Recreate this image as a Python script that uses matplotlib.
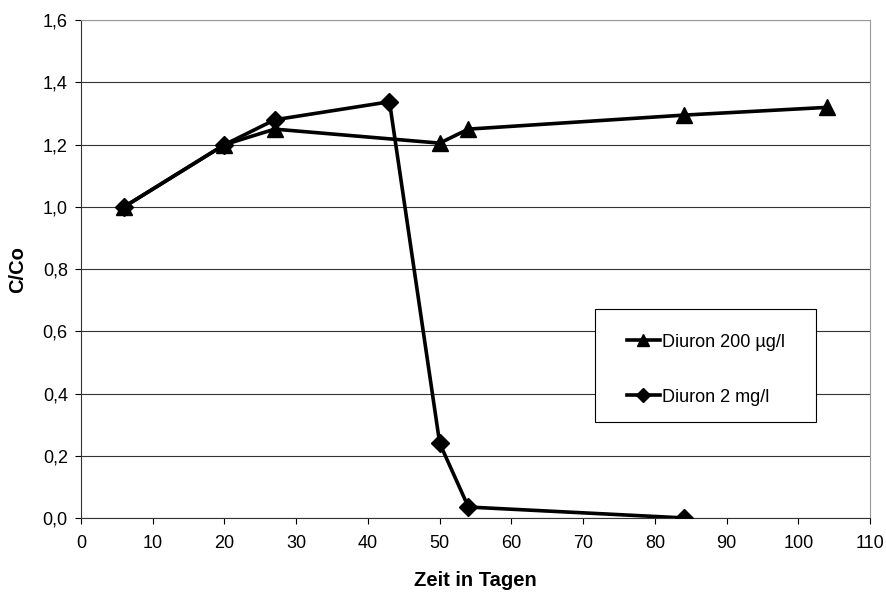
"""Diuron C/Co over time"""
import matplotlib.pyplot as plt
from matplotlib.patches import Rectangle
import numpy as np

plt.rcParams['font.family'] = ['Liberation Sans', 'DejaVu Sans']

days_200ug = [6, 20, 27, 50, 54, 84, 104]
ratio_200ug = [1.0, 1.2, 1.25, 1.205, 1.25, 1.295, 1.32]

days_2mg = [6, 20, 27, 43, 50, 54, 84]
ratio_2mg = [1.0, 1.2, 1.28, 1.338, 0.24, 0.035, 0.0]

x_ticks = np.arange(0, 111, 10)
y_ticks = np.arange(0, 1.61, 0.2)


def main():
    """Build the chart"""
    fig = plt.figure(figsize=(8.87, 5.96), dpi=100)
    ax = fig.add_axes([0.0913, 0.131, 0.8897, 0.835])

    ax.plot(days_200ug, ratio_200ug, color='black', lw=2.6, marker='^',
            markersize=12, label='Diuron 200 µg/l', zorder=3)
    ax.plot(days_2mg, ratio_2mg, color='black', lw=2.6, marker='D',
            markersize=9, label='Diuron 2 mg/l', zorder=3)

    ax.set_xlim(0, 110)
    ax.set_ylim(0, 1.6)
    ax.set_xticks(x_ticks)
    ax.set_yticks(y_ticks)
    ax.set_yticklabels([f'{v:.1f}'.replace('.', ',') for v in y_ticks])
    ax.tick_params(direction='out', length=4.5, labelsize=13, width=0.8)
    ax.tick_params(axis='x', pad=8)
    ax.tick_params(axis='y', pad=5)
    ax.yaxis.grid(True, color='#333333', lw=0.8)
    ax.set_axisbelow(True)

    for side in ('top', 'right'):
        ax.spines[side].set_color('#999999')
    for side in ('left', 'bottom'):
        ax.spines[side].set_color('#333333')

    ax.set_xlabel('Zeit in Tagen', fontsize=14.5, fontweight='bold')
    ax.set_ylabel('C/Co', fontsize=14.5, fontweight='bold')
    ax.xaxis.set_label_coords(0.5, -0.107)
    ax.yaxis.set_label_coords(-0.068, 0.5)

    # legend box drawn separately so the entries can sit inside with Excel-like padding
    ax.add_patch(Rectangle((0.6515, 0.1928), 0.2801, 0.2269, transform=ax.transAxes,
                           facecolor='white', edgecolor='black', lw=0.8, zorder=4))
    ax.legend(loc='upper left', bbox_to_anchor=(0.692, 0.370), frameon=False,
              fontsize=13, handlelength=1.8, labelspacing=2.1,
              borderpad=0, borderaxespad=0, handletextpad=0.12, markerscale=0.75)

    fig.savefig('out.png', dpi=100)


if __name__ == "__main__":
    main()
